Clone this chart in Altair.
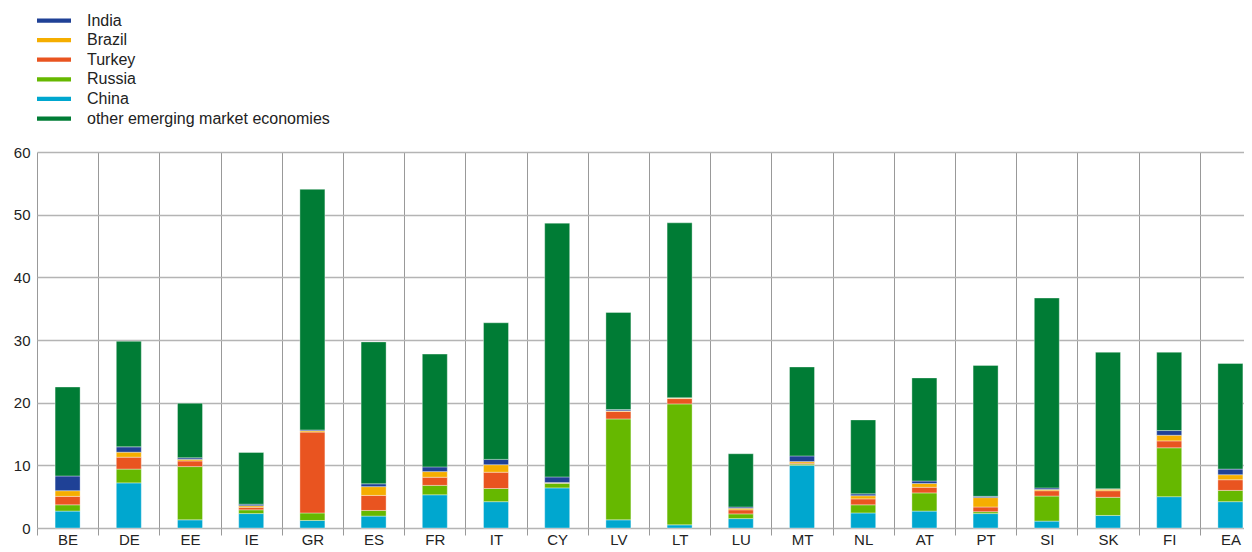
import altair as alt
import pandas as pd

countries = ["BE", "DE", "EE", "IE", "GR", "ES", "FR", "IT", "CY", "LV",
             "LT", "LU", "MT", "NL", "AT", "PT", "SI", "SK", "FI", "EA"]

china = [2.7, 7.2, 1.3, 2.3, 1.2, 1.9, 5.3, 4.2, 6.4, 1.3,
         0.5, 1.5, 10.0, 2.4, 2.7, 2.3, 1.1, 2.0, 5.0, 4.2]
russia = [1.0, 2.2, 8.5, 0.6, 1.2, 0.9, 1.5, 2.1, 0.75, 16.1,
          19.3, 0.75, 0.2, 1.3, 2.9, 0.3, 4.0, 2.9, 7.8, 1.8]
turkey = [1.35, 1.9, 0.9, 0.4, 12.9, 2.4, 1.3, 2.6, 0.05, 1.2,
          0.85, 0.65, 0.15, 0.95, 0.9, 0.75, 0.85, 1.05, 1.1, 1.7]
brazil = [0.9, 0.8, 0.25, 0.25, 0.2, 1.4, 0.9, 1.2, 0.05, 0.1,
          0.1, 0.25, 0.25, 0.5, 0.6, 1.5, 0.2, 0.25, 0.9, 0.8]
india = [2.35, 0.85, 0.25, 0.25, 0.15, 0.45, 0.75, 0.85, 0.9, 0.2,
         0.05, 0.2, 0.9, 0.3, 0.4, 0.2, 0.25, 0.05, 0.75, 0.9]
other = [14.2, 16.85, 8.7, 8.25, 38.4, 22.65, 18.0, 21.8, 40.5, 15.5,
         27.9, 8.5, 14.2, 11.8, 16.45, 20.9, 30.3, 21.8, 12.5, 16.85]

series_names = ["India", "Brazil", "Turkey", "Russia", "China",
                "other emerging market economies"]
series_colors = ["#1f4196", "#f5ae00", "#e95420", "#66b800", "#00a7cf", "#007c35"]
stack_order = ["China", "Russia", "Turkey", "Brazil", "India",
               "other emerging market economies"]
series_values = {"India": india, "Brazil": brazil, "Turkey": turkey,
                 "Russia": russia, "China": china,
                 "other emerging market economies": other}

rows = []
for name in stack_order:
    for c, v in zip(countries, series_values[name]):
        rows.append({"country": c, "series": name, "value": v,
                     "order": stack_order.index(name)})
df = pd.DataFrame(rows)

font = "Liberation Sans"

chart = alt.Chart(df).mark_bar(
    size=25, stroke="white", strokeWidth=0.6, strokeOpacity=0.6
).encode(
    x=alt.X("country:N", sort=countries, title=None,
            scale=alt.Scale(paddingInner=0, paddingOuter=0, range=[0, 1224]),
            axis=alt.Axis(labelAngle=0, tickBand="extent", grid=True,
                          gridColor="#999999", gridWidth=1,
                          domain=False, ticks=True, tickSize=7,
                          tickColor="#999999", labelFontSize=15,
                          labelColor="#222222", labelFont=font,
                          labelPadding=-3)),
    y=alt.Y("value:Q", title=None,
            scale=alt.Scale(domain=[0, 60], nice=False),
            axis=alt.Axis(values=[0, 10, 20, 30, 40, 50, 60], ticks=False,
                          domain=False, gridColor="#b4b4b4", gridWidth=1.5,
                          labelFontSize=15, labelColor="#222222",
                          labelFont=font, labelPadding=7)),
    color=alt.Color("series:N",
                    scale=alt.Scale(domain=series_names, range=series_colors),
                    legend=alt.Legend(title=None, orient="none",
                                      legendX=8.5, legendY=-140,
                                      direction="vertical",
                                      symbolType="M-2,-0.25H2V0.25H-2Z",
                                      symbolStrokeWidth=0,
                                      symbolSize=289,
                                      labelFontSize=16, labelFont=font,
                                      labelColor="#222222", labelLimit=0,
                                      labelOffset=24.5, rowPadding=2.6)),
    order=alt.Order("order:Q", sort="ascending"),
).properties(
    width=1207, height=376,
    autosize=alt.AutoSizeParams(type="none"),
    padding={"left": 29, "top": 144, "right": 0, "bottom": 24},
).configure_view(stroke=None)

chart.save("out.html", embed_options={"renderer": "svg", "actions": False})
